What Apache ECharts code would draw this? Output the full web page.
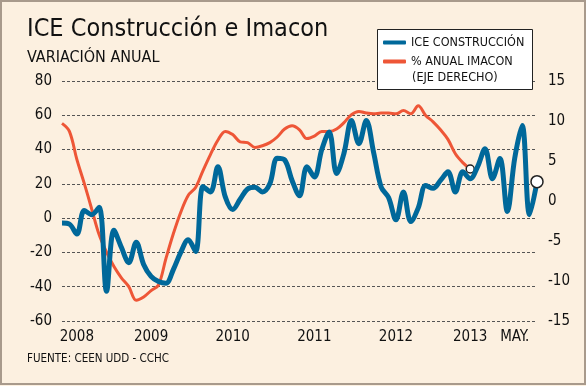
<!DOCTYPE html>
<html>
<head>
<meta charset="utf-8">
<script src="https://cdn.jsdelivr.net/npm/echarts@6/dist/echarts.min.js"></script>
<style>
html,body{margin:0;padding:0;background:#fcf0e0;}
#chart{width:586px;height:386px;}
</style>
</head>
<body>
<div id="chart"></div>
<script>
// Monthly categories Jan 2008 .. May 2013
const categories = [];
for (let y = 2008; y <= 2013; y++) {
  for (let m = 1; m <= 12; m++) {
    if (y === 2013 && m > 5) break;
    categories.push(y + '-' + (m < 10 ? '0' + m : m));
  }
}
// ICE Construcción (left axis, %)
const iceConstruccion = [-2.9, -3.5, -9.3, 4.5, 2, 6.4, -42.7, -7, -17, -26,
  -14, -27, -34, -37, -38, -30, -20, -12.6, -19.4, 18.4,
  15.3, 30, 12.4, 5, 11, 17, 18, 15.3, 20, 35,
  34, 22, 13, 30, 24, 40, 50.3, 26, 38, 57,
  43.4, 57, 38, 18.2, 12, -1, 15.3, -2, 6, 19,
  17.4, 22, 27, 15.3, 27, 23, 30, 40.5, 23, 34.8,
  3.9, 35, 54, 2, 21.3];
// % anual Imacon (right axis)
const imaconAnual = [9.7, 8.7, 5.2, 2.2, -1, -4.2, -6.4, -8.2, -9.6, -10.7,
  -12.4, -12.0, -11.2, -10.5, -7.2, -4.1, -1.4, 0.7, 1.7, 3.8,
  5.8, 7.6, 8.7, 8.3, 7.4, 7.3, 6.7, 6.9, 7.3, 8.0,
  9.0, 9.4, 8.9, 7.8, 8.1, 8.7, 8.7, 9.0, 9.8, 10.8,
  11.2, 11.0, 10.9, 11.0, 11.0, 10.9, 11.3, 10.9, 11.9, 10.7,
  9.9, 8.9, 7.7, 5.9, 4.8, 4.0];
// x tick labels, keyed by category
const xTickLabels = {
  '2008-03': '2008', '2009-01': '2009', '2009-12': '2010', '2010-11': '2011',
  '2011-10': '2012', '2012-08': '2013', '2013-02': 'MAY.'
};
const leftAxisRange = [-60, 80, 20];
const rightAxisRange = [-15, 15, 5];

const FONT = '"DejaVu Sans Condensed", "DejaVu Sans", sans-serif';
const BLUE = '#00689a';
const RED = '#ee5637';

function withEndMarker(arr, size) {
  return arr.map((v, i) => i === arr.length - 1 ? {
    value: v, symbol: 'circle', symbolSize: size,
    itemStyle: { color: '#ffffff', borderColor: '#222', borderWidth: 1.5 }
  } : v);
}

const chart = echarts.init(document.getElementById('chart'));
chart.setOption({
  backgroundColor: '#fcf0e0',
  animation: false,
  title: [{
    text: 'ICE Construcción e Imacon',
    subtext: 'VARIACIÓN ANUAL',
    left: 27, top: 17, padding: 0, itemGap: 8,
    textStyle: { fontFamily: FONT, fontSize: 25, fontWeight: 'normal', color: '#111' },
    subtextStyle: { fontFamily: FONT, fontSize: 16, color: '#111' }
  }, {
    text: 'FUENTE: CEEN UDD - CCHC',
    left: 27, top: 353, padding: 0,
    textStyle: { fontFamily: FONT, fontSize: 11.5, fontWeight: 'normal', color: '#111' }
  }],
  graphic: [{
    type: 'rect', z: 0,
    shape: { x: 1, y: 1, width: 584, height: 383 },
    style: { fill: 'none', stroke: '#a89a8c', lineWidth: 2 }
  }, {
    type: 'rect', z: 1,
    shape: { x: 377.5, y: 29.5, width: 155, height: 60 },
    style: { fill: '#ffffff', stroke: '#222', lineWidth: 1 }
  }, {
    type: 'text', z: 5, left: 412, top: 71,
    style: { text: '(EJE DERECHO)', font: '12.5px ' + FONT, fill: '#111' }
  }],
  legend: {
    orient: 'vertical', left: 383, top: 35, padding: 0,
    itemWidth: 23, itemHeight: 4, itemGap: 4,
    icon: 'roundRect',
    textStyle: { fontFamily: FONT, fontSize: 12.5, color: '#111', lineHeight: 15 },
    data: ['ICE CONSTRUCCIÓN', '% ANUAL IMACON']
  },
  grid: { left: 62, right: 49, top: 81, bottom: 65 },
  xAxis: {
    type: 'category', data: categories, boundaryGap: false,
    axisLine: { show: false }, axisTick: { show: false },
    axisLabel: {
      interval: (i, v) => xTickLabels[v] !== undefined,
      formatter: v => xTickLabels[v] || '',
      margin: 9, fontFamily: FONT, fontSize: 15, color: '#111'
    },
    splitLine: { show: false }
  },
  yAxis: [{
    type: 'value', min: leftAxisRange[0], max: leftAxisRange[1], interval: leftAxisRange[2],
    axisLine: { show: false }, axisTick: { show: false },
    axisLabel: { margin: 10, fontFamily: FONT, fontSize: 15, color: '#111' },
    splitLine: { show: true, lineStyle: { color: '#555', width: 1, type: [3, 2] } }
  }, {
    type: 'value', min: rightAxisRange[0], max: rightAxisRange[1], interval: rightAxisRange[2],
    axisLine: { show: false }, axisTick: { show: false },
    axisLabel: { margin: 11, fontFamily: FONT, fontSize: 15, color: '#111' },
    splitLine: { show: false }
  }],
  series: [{
    name: 'ICE CONSTRUCCIÓN', type: 'line', yAxisIndex: 0, z: 3, clip: false,
    data: withEndMarker(iceConstruccion, 12),
    smooth: 0.35, symbol: 'none', showSymbol: true, showAllSymbol: true,
    color: BLUE, lineStyle: { color: BLUE, width: 5 }
  }, {
    name: '% ANUAL IMACON', type: 'line', yAxisIndex: 1, z: 2, clip: false,
    data: withEndMarker(imaconAnual, 8),
    smooth: 0.35, symbol: 'none', showSymbol: true, showAllSymbol: true,
    color: RED, lineStyle: { color: RED, width: 3 }
  }]
});
</script>
</body>
</html>
